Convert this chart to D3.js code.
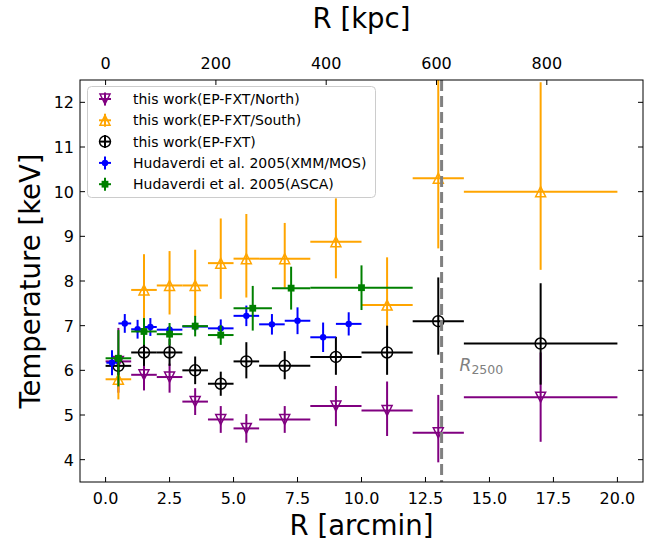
<!DOCTYPE html>
<html>
<head>
<meta charset="utf-8">
<script src="https://cdn.jsdelivr.net/npm/d3@7"></script>
<style>
  body { margin: 0; background: #fff; }
  svg text { font-family: "DejaVu Sans", sans-serif; }
</style>
</head>
<body>
<svg id="chart" width="660" height="545"></svg>
<script>
// radial bins (arcmin) and temperatures (keV)
const fxtR = [0.5, 1.5, 2.5, 3.5, 4.5, 5.5, 7, 9, 11, 13, 17];
const fxtRerr = [0.5, 0.5, 0.5, 0.5, 0.5, 0.5, 1, 1, 1, 1, 3];

const northT = [6.2, 5.9, 5.85, 5.3, 4.9, 4.7, 4.9, 5.2, 5.1, 4.6, 5.4];
const northLo = [0.7, 0.35, 0.35, 0.3, 0.3, 0.32, 0.3, 0.45, 0.57, 0.66, 1.0];
const northHi = [0.75, 0.3, 0.3, 0.3, 0.3, 0.32, 0.3, 0.45, 0.65, 0.85, 1.0];

const southT = [5.8, 7.8, 7.9, 7.9, 8.4, 8.5, 8.5, 8.88, 7.46, 10.3, 10.0];
const southLo = [0.45, 0.8, 0.65, 0.7, 0.8, 0.87, 0.65, 0.82, 0.5, 1.57, 1.75];
const southHi = [0.45, 0.8, 0.77, 0.8, 1.0, 1.0, 0.8, 0.97, 1.07, 2.2, 2.45];

const fxtT = [6.1, 6.4, 6.4, 6.0, 5.7, 6.2, 6.1, 6.3, 6.4, 7.1, 6.6];
const fxtLo = [0.2, 0.3, 0.3, 0.31, 0.27, 0.38, 0.3, 0.4, 0.5, 0.75, 0.92];
const fxtHi = [0.2, 0.3, 0.3, 0.31, 0.27, 0.43, 0.33, 0.45, 0.6, 0.98, 1.35];

const xmmR = [0.25, 0.75, 1.25, 1.75, 2.5, 3.5, 4.5, 5.5, 6.5, 7.5, 8.5, 9.5];
const xmmRerr = [0.22, 0.25, 0.25, 0.25, 0.5, 0.5, 0.5, 0.5, 0.5, 0.5, 0.5, 0.5];
const xmmT = [6.17, 7.05, 6.92, 6.97, 6.91, 6.98, 6.94, 7.22, 7.03, 7.11, 6.74, 7.04];
const xmmErr = [0.28, 0.21, 0.21, 0.2, 0.08, 0.1, 0.2, 0.23, 0.23, 0.3, 0.33, 0.26];

const ascaR = [0.5, 1.5, 2.5, 3.5, 4.5, 5.75, 7.25, 10];
const ascaRerr = [0.5, 0.5, 0.5, 0.5, 0.5, 0.75, 0.75, 2];
const ascaT = [6.27, 6.87, 6.81, 6.99, 6.79, 7.39, 7.84, 7.85];
const ascaErr = [0.63, 0.3, 0.25, 0.23, 0.22, 0.5, 0.48, 0.5];

const r2500 = 13.13;
const kpcPerArcmin = 46.4;

const arcminTicks = [0, 2.5, 5, 7.5, 10, 12.5, 15, 17.5, 20];
const kpcTicks = [0, 200, 400, 600, 800];
const tempTicks = [4, 5, 6, 7, 8, 9, 10, 11, 12];

function makeSeries(r, rerr, t, lo, hi) {
    return r.map((d, i) => ({ r: d, re: rerr[i], t: t[i], lo: lo[i], hi: hi[i] }));
}

const series = [
    { label: "this work(EP-FXT/North)", color: "purple", marker: "down", data: makeSeries(fxtR, fxtRerr, northT, northLo, northHi) },
    { label: "this work(EP-FXT/South)", color: "orange", marker: "up", data: makeSeries(fxtR, fxtRerr, southT, southLo, southHi) },
    { label: "this work(EP-FXT)", color: "black", marker: "circle", data: makeSeries(fxtR, fxtRerr, fxtT, fxtLo, fxtHi) },
    { label: "Hudaverdi et al. 2005(XMM/MOS)", color: "blue", marker: "dot", data: makeSeries(xmmR, xmmRerr, xmmT, xmmErr, xmmErr) },
    { label: "Hudaverdi et al. 2005(ASCA)", color: "green", marker: "square", data: makeSeries(ascaR, ascaRerr, ascaT, ascaErr, ascaErr) }
];

const pLeft = 80, pRight = 643, pTop = 80, pBottom = 482;

const svg = d3.select("#chart");

const x = d3.scaleLinear().domain([-1, 21]).range([pLeft, pRight]);
const y = d3.scaleLinear().domain([3.5, 12.5]).range([pBottom, pTop]);
const xk = d3.scaleLinear()
    .domain([-1 * kpcPerArcmin, 21 * kpcPerArcmin])
    .range([pLeft, pRight]);

svg.append("defs").append("clipPath").attr("id", "plotclip")
    .append("rect")
    .attr("x", pLeft).attr("y", pTop)
    .attr("width", pRight - pLeft).attr("height", pBottom - pTop);

function drawMarker(g, type, cx, cy, color) {
    const s = 5;
    if (type === "down") {
        g.append("path")
            .attr("d", `M${cx - s},${cy - s}L${cx + s},${cy - s}L${cx},${cy + s}Z`)
            .attr("fill", "none").attr("stroke", color).attr("stroke-width", 1.5);
    } else if (type === "up") {
        g.append("path")
            .attr("d", `M${cx - s},${cy + s}L${cx + s},${cy + s}L${cx},${cy - s}Z`)
            .attr("fill", "none").attr("stroke", color).attr("stroke-width", 1.5);
    } else if (type === "circle") {
        g.append("circle")
            .attr("cx", cx).attr("cy", cy).attr("r", 5.5)
            .attr("fill", "none").attr("stroke", color).attr("stroke-width", 1.5);
    } else if (type === "dot") {
        g.append("circle")
            .attr("cx", cx).attr("cy", cy).attr("r", 3.2)
            .attr("fill", color);
    } else if (type === "square") {
        g.append("rect")
            .attr("x", cx - 3.4).attr("y", cy - 3.4)
            .attr("width", 6.8).attr("height", 6.8)
            .attr("fill", color);
    }
}

const plot = svg.append("g").attr("clip-path", "url(#plotclip)");

series.forEach(s => {
    const g = plot.append("g");
    g.selectAll("line.xe")
        .data(s.data)
        .join("line")
        .attr("class", "xe")
        .attr("x1", d => x(d.r - d.re))
        .attr("x2", d => x(d.r + d.re))
        .attr("y1", d => y(d.t))
        .attr("y2", d => y(d.t))
        .attr("stroke", s.color).attr("stroke-width", 2);
    g.selectAll("line.ye")
        .data(s.data)
        .join("line")
        .attr("class", "ye")
        .attr("x1", d => x(d.r))
        .attr("x2", d => x(d.r))
        .attr("y1", d => y(d.t - d.lo))
        .attr("y2", d => y(d.t + d.hi))
        .attr("stroke", s.color).attr("stroke-width", 2);
    s.data.forEach(d => drawMarker(g, s.marker, x(d.r), y(d.t), s.color));
});

// R2500 line
plot.append("line")
    .attr("x1", x(r2500)).attr("x2", x(r2500))
    .attr("y1", pTop).attr("y2", pBottom)
    .attr("stroke", "gray").attr("stroke-width", 3)
    .attr("stroke-dasharray", "11,5");

const lbl = svg.append("text")
    .attr("x", x(r2500) + 18).attr("y", 371)
    .attr("fill", "gray");
lbl.append("tspan").attr("font-style", "italic").attr("font-size", 17).text("R");
lbl.append("tspan").attr("font-size", 12.5).attr("dy", 3).text("2500");

// frame + ticks (inward)
svg.append("rect")
    .attr("x", pLeft).attr("y", pTop)
    .attr("width", pRight - pLeft).attr("height", pBottom - pTop)
    .attr("fill", "none").attr("stroke", "black").attr("stroke-width", 1);

const tk = svg.append("g").attr("stroke", "black").attr("stroke-width", 1);
arcminTicks.forEach(v => {
    tk.append("line").attr("x1", x(v)).attr("x2", x(v)).attr("y1", pBottom).attr("y2", pBottom - 5);
});
kpcTicks.forEach(v => {
    tk.append("line").attr("x1", xk(v)).attr("x2", xk(v)).attr("y1", pTop).attr("y2", pTop + 5);
});
tempTicks.forEach(v => {
    tk.append("line").attr("x1", pLeft).attr("x2", pLeft + 5).attr("y1", y(v)).attr("y2", y(v));
    tk.append("line").attr("x1", pRight).attr("x2", pRight - 5).attr("y1", y(v)).attr("y2", y(v));
});

svg.append("g").selectAll("text")
    .data(arcminTicks)
    .join("text")
    .attr("x", d => x(d)).attr("y", 504)
    .attr("text-anchor", "middle").attr("font-size", 16)
    .text(d => d.toFixed(1));

svg.append("g").selectAll("text")
    .data(kpcTicks)
    .join("text")
    .attr("x", d => xk(d)).attr("y", 69)
    .attr("text-anchor", "middle").attr("font-size", 16)
    .text(d => d);

svg.append("g").selectAll("text")
    .data(tempTicks)
    .join("text")
    .attr("x", 74).attr("y", d => y(d) + 6)
    .attr("text-anchor", "end").attr("font-size", 16)
    .text(d => d);

svg.append("text")
    .attr("x", (pLeft + pRight) / 2).attr("y", 535)
    .attr("text-anchor", "middle").attr("font-size", 27.5)
    .text("R [arcmin]");

svg.append("text")
    .attr("x", (pLeft + pRight) / 2).attr("y", 28)
    .attr("text-anchor", "middle").attr("font-size", 27.5)
    .text("R [kpc]");

svg.append("text")
    .attr("transform", `translate(40,${(pTop + pBottom) / 2}) rotate(-90)`)
    .attr("text-anchor", "middle").attr("font-size", 27.5)
    .text("Temperature [keV]");

// legend
const leg = svg.append("g");
leg.append("rect")
    .attr("x", 87.5).attr("y", 86.5)
    .attr("width", 288).attr("height", 111)
    .attr("rx", 4)
    .attr("fill", "white").attr("fill-opacity", 0.8)
    .attr("stroke", "#cccccc").attr("stroke-width", 1);

series.forEach((s, i) => {
    const cy = 99 + i * 21.3;
    const cx = 105;
    const g = leg.append("g");
    g.append("line").attr("x1", cx - 6).attr("x2", cx + 6).attr("y1", cy).attr("y2", cy)
        .attr("stroke", s.color).attr("stroke-width", 2);
    g.append("line").attr("x1", cx).attr("x2", cx).attr("y1", cy - 6.5).attr("y2", cy + 6.5)
        .attr("stroke", s.color).attr("stroke-width", 2);
    drawMarker(g, s.marker, cx, cy, s.color);
    g.append("text")
        .attr("x", 133).attr("y", cy + 5)
        .attr("font-size", 14)
        .text(s.label);
});
</script>
</body>
</html>
